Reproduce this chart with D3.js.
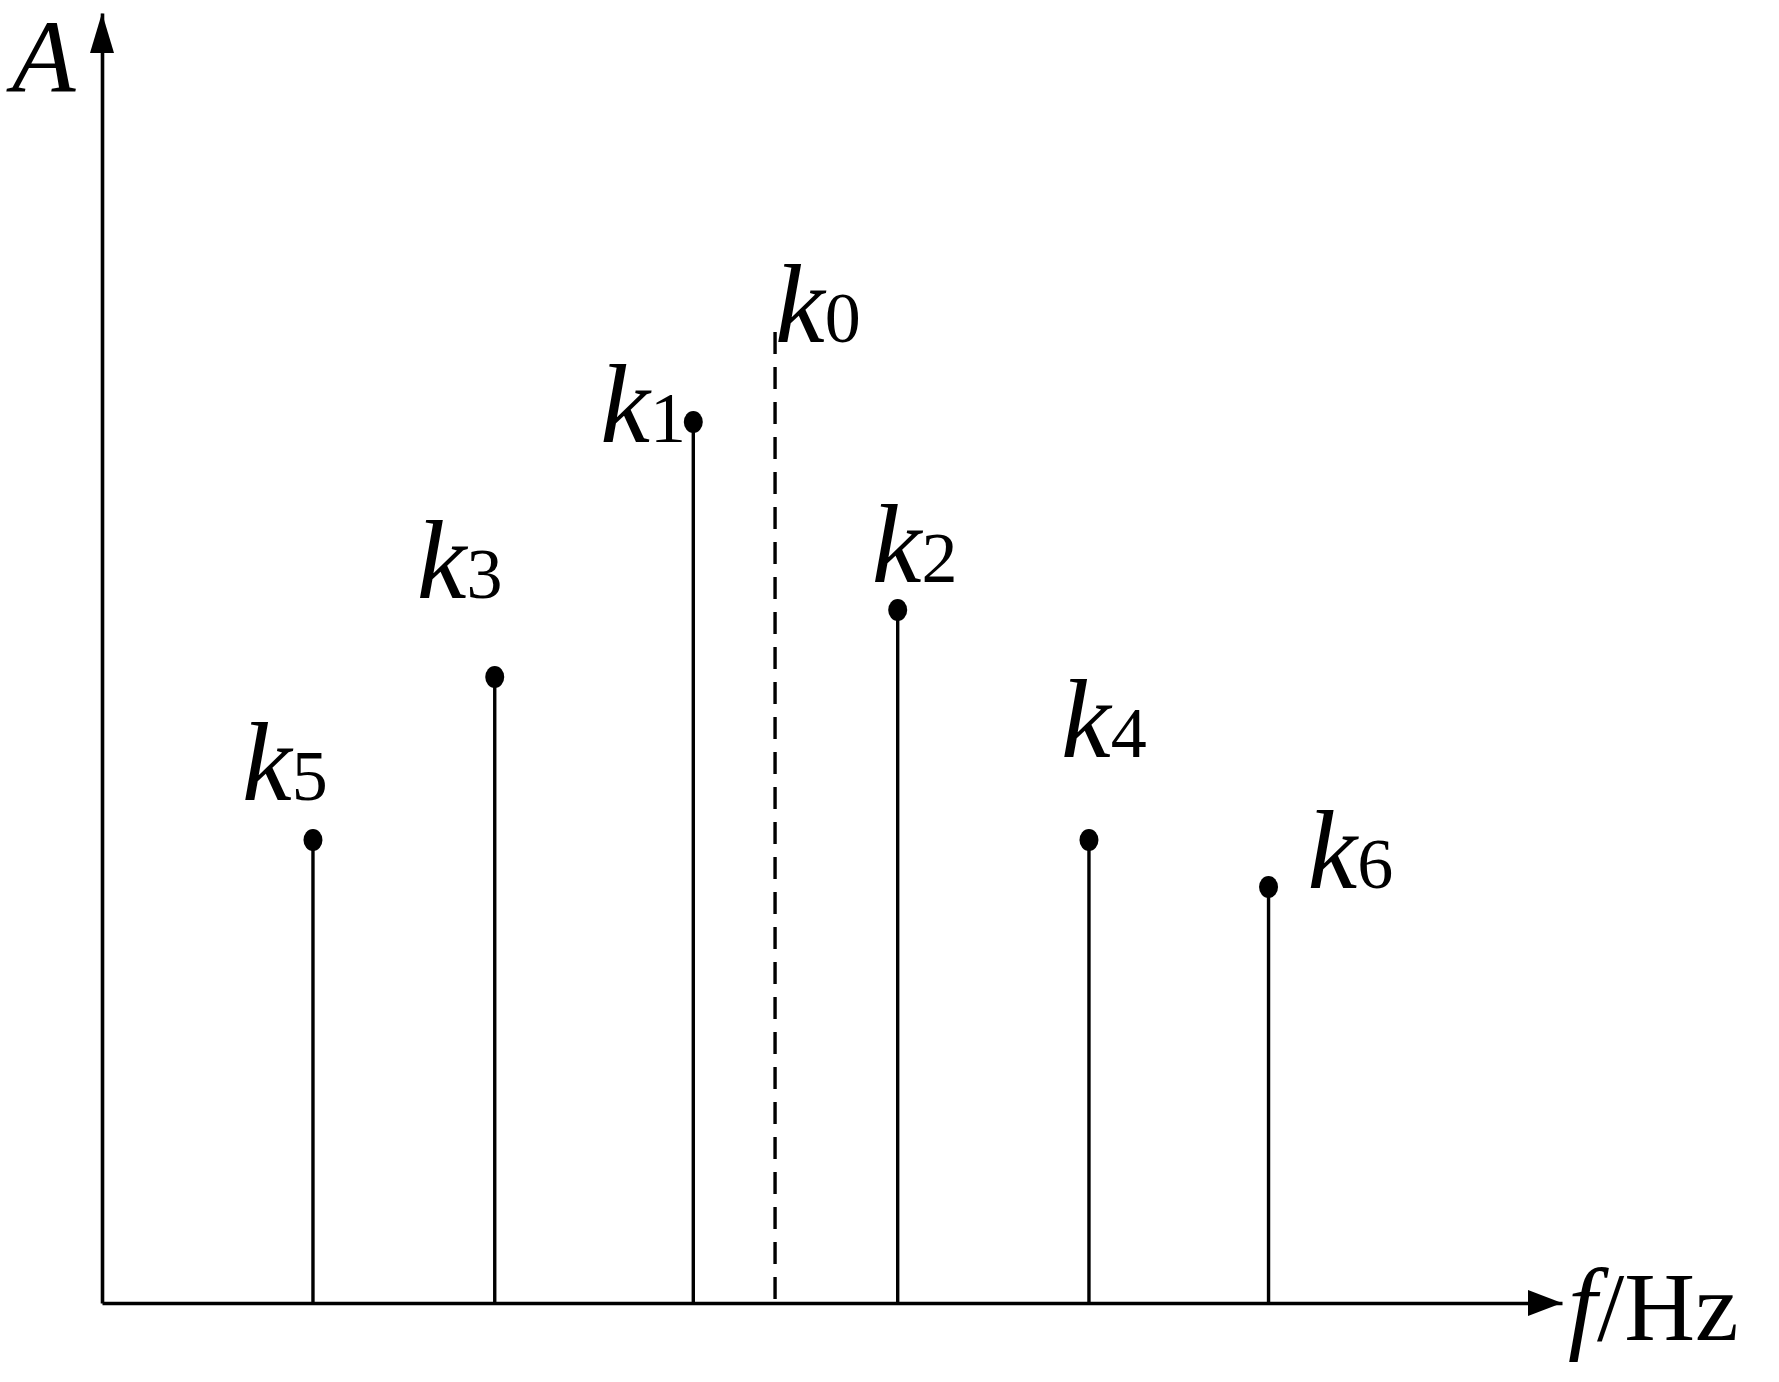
<!DOCTYPE html>
<html>
<head>
<meta charset="utf-8">
<script src="https://cdn.jsdelivr.net/npm/d3@7"></script>
<style>
  html, body { margin: 0; padding: 0; background: #fff; }
  svg { display: block; }
</style>
</head>
<body>
<svg></svg>
<script>
// spectral lines: name, frequency (axis units), amplitude
let names = ['k5', 'k3', 'k1', 'k2', 'k4', 'k6'];
let freqs = [14.45, 26.9, 40.5, 54.5, 67.6, 79.9];
let amps = [0.463, 0.626, 0.881, 0.693, 0.463, 0.416];
// dashed reference line k0
let refName = 'k0';
let refFreq = 46.1;
let refAmp = 0.971;

// label placement relative to the dot (left edge of k, baseline)
let labelOffset = {
  k5: [-71, -40], k3: [-78, -79], k1: [-93, 20],
  k2: [-26, -28], k4: [-28, -83], k6: [39, 1], k0: [0, 10]
};

let W = 1779, H = 1382;
let svg = d3.select('svg').attr('width', W).attr('height', H);

let x = d3.scaleLinear().domain([0, 100]).range([102, 1562]);
let y = d3.scaleLinear().domain([0, 1.29]).range([1303, 13]);

// axes (no ticks, only the lines)
svg.append('g')
  .attr('transform', 'translate(0,' + y(0) + ')')
  .call(d3.axisBottom(x).tickValues([]).tickSizeOuter(0));
svg.append('g')
  .attr('transform', 'translate(' + x(0) + ',0)')
  .call(d3.axisLeft(y).tickValues([]).tickSizeOuter(0));
svg.selectAll('.domain').attr('stroke', '#000').attr('stroke-width', 3.6);

// arrow heads
svg.append('path')
  .attr('d', 'M' + x(0) + ',' + y(1.29) + 'L' + (x(0) - 12) + ',' + (y(1.29) + 40) + 'L' + (x(0) + 12) + ',' + (y(1.29) + 40) + 'Z')
  .attr('fill', '#000');
svg.append('path')
  .attr('d', 'M' + x(100) + ',' + y(0) + 'L' + (x(100) - 34) + ',' + (y(0) - 13) + 'L' + (x(100) - 34) + ',' + (y(0) + 13) + 'Z')
  .attr('fill', '#000');

let data = names.map((n, i) => ({ name: n, f: freqs[i], a: amps[i] }));

// stems
svg.selectAll('line.stem')
  .data(data)
  .enter().append('line')
  .attr('class', 'stem')
  .attr('x1', d => x(d.f)).attr('x2', d => x(d.f))
  .attr('y1', y(0)).attr('y2', d => y(d.a))
  .attr('stroke', '#000').attr('stroke-width', 3.4);

// dots
svg.selectAll('ellipse.dot')
  .data(data)
  .enter().append('ellipse')
  .attr('class', 'dot')
  .attr('cx', d => x(d.f)).attr('cy', d => y(d.a))
  .attr('rx', 9.5).attr('ry', 11)
  .attr('fill', '#000');

// dashed k0 line
svg.append('line')
  .attr('x1', x(refFreq)).attr('x2', x(refFreq))
  .attr('y1', y(refAmp)).attr('y2', y(0))
  .attr('stroke', '#000').attr('stroke-width', 3.4)
  .attr('stroke-dasharray', '22,13');

function kLabel(name, px, py) {
  let off = labelOffset[name];
  let t = svg.append('text')
    .attr('x', px + off[0]).attr('y', py + off[1])
    .attr('font-family', '"Liberation Serif", "Times New Roman", serif')
    .attr('fill', '#000');
  t.append('tspan').attr('font-style', 'italic').attr('font-size', 112).text('k');
  t.append('tspan').attr('font-size', 72).text(name.slice(1));
}

data.forEach(d => kLabel(d.name, x(d.f), y(d.a)));
kLabel(refName, x(refFreq), y(refAmp));

// axis titles
svg.append('text')
  .attr('x', 12).attr('y', 92)
  .attr('font-family', '"Liberation Serif", "Times New Roman", serif')
  .attr('font-style', 'italic').attr('font-size', 104)
  .text('A');

let xt = svg.append('text')
  .attr('x', 1568).attr('y', 1340)
  .attr('font-family', '"Liberation Serif", "Times New Roman", serif')
  .attr('font-size', 98);
xt.append('tspan').attr('font-style', 'italic').attr('font-size', 104).text('f');
xt.append('tspan').text('/Hz');
</script>
</body>
</html>
